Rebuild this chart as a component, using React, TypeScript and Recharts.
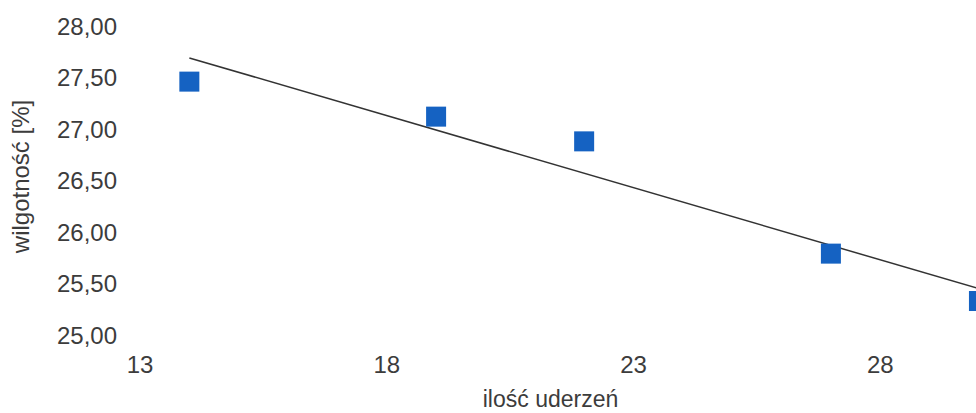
import React from 'react';
import { ScatterChart, Scatter, XAxis, YAxis } from 'recharts';

const blows = [14, 19, 22, 27, 30];
const moisture = [27.46, 27.12, 26.88, 25.79, 25.33];
const trendX = [14, 30];
const trendY = [27.69, 25.45];
const xTicks = [13, 18, 23, 28];
const yTicks = [25, 25.5, 26, 26.5, 27, 27.5, 28];

const points = blows.map((x, i) => ({ x, y: moisture[i] }));
const trend = trendX.map((x, i) => ({ x, y: trendY[i] }));

const font = '"Liberation Sans", Arial, sans-serif';
const textColor = '#3c3c3c';
const markerColor = '#1562c2';
const markerSide = 20;

const fmt = (v: number) => v.toFixed(2).replace('.', ',');

// filled square centred on the point the scales give
const SquareMarker = (props: any) => (
  <rect
    x={props.cx - markerSide / 2}
    y={props.cy - markerSide / 2}
    width={markerSide}
    height={markerSide}
    fill={markerColor}
  />
);

export default function App() {
  return (
    <div
      style={{
        position: 'absolute',
        left: 0,
        top: 0,
        width: 976,
        height: 413,
        overflow: 'hidden',
        background: '#fff',
        fontFamily: font,
      }}
    >
      <ScatterChart width={1160} height={413} margin={{ top: 26, right: 33, bottom: 0, left: 0 }}>
        <XAxis
          type="number"
          dataKey="x"
          domain={[13, 33]}
          ticks={xTicks}
          axisLine={false}
          tickLine={false}
          tickSize={0}
          tickMargin={21}
          height={78}
          tick={{ fill: textColor, fontSize: 24, fontFamily: font }}
          label={{
            value: 'ilość uderzeń',
            position: 'insideBottom',
            offset: 6,
            dx: -83,
            fill: textColor,
            fontSize: 23,
            fontFamily: font,
          }}
        />
        <YAxis
          type="number"
          dataKey="y"
          domain={[25, 28]}
          ticks={yTicks}
          tickFormatter={fmt}
          axisLine={false}
          tickLine={false}
          tickSize={0}
          tickMargin={23}
          width={140}
          tick={{ fill: textColor, fontSize: 24, fontFamily: font }}
          label={{
            value: 'wilgotność [%]',
            angle: -90,
            position: 'insideLeft',
            offset: 20,
            dy: -4,
            fill: textColor,
            fontSize: 24,
            fontFamily: font,
            style: { textAnchor: 'middle' },
          }}
        />
        <Scatter
          data={trend}
          line={{ stroke: '#333', strokeWidth: 1.5 }}
          shape={() => <g />}
          isAnimationActive={false}
        />
        <Scatter data={points} shape={SquareMarker} fill={markerColor} isAnimationActive={false} />
      </ScatterChart>
    </div>
  );
}
